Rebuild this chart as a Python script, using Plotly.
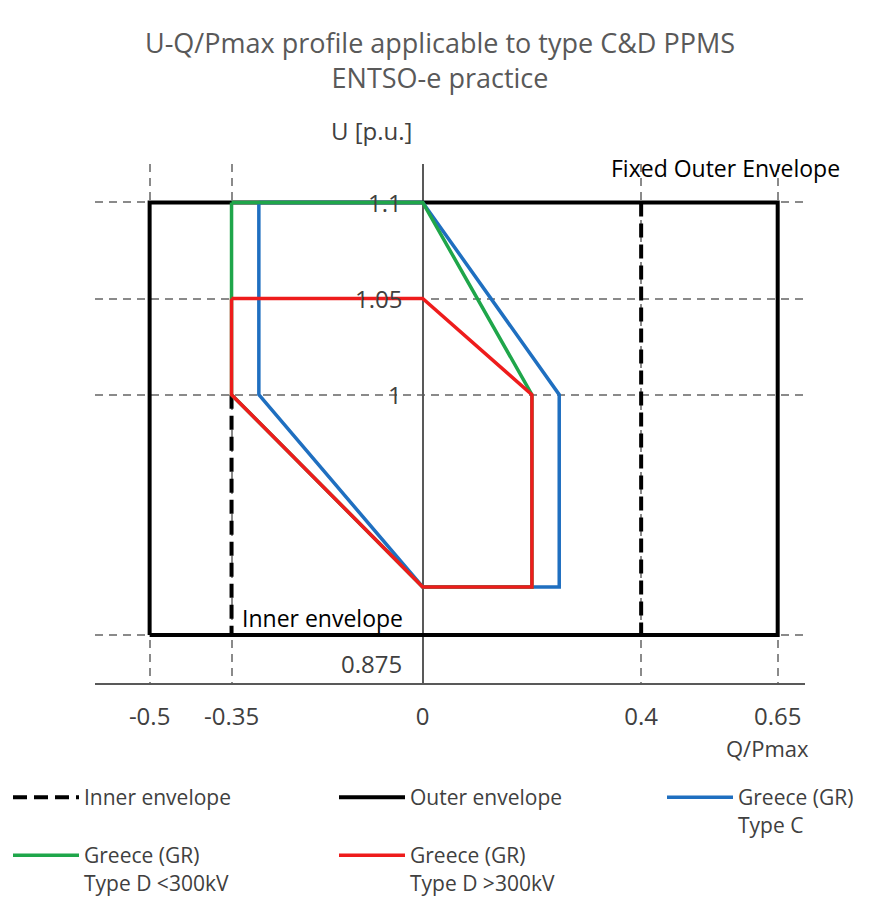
import plotly.graph_objects as go

# ---------------- data ----------------
outer_q = [-0.5, -0.5, 0.65, 0.65, -0.5]
outer_u = [0.875, 1.1, 1.1, 0.875, 0.875]

inner_q = [-0.35, -0.35, None, 0.4, 0.4]
inner_u = [1.0, 0.875, None, 1.1, 0.875]

typeC_q = [-0.3, 0, 0.25, 0.25, 0, -0.3, -0.3]
typeC_u = [1.1, 1.1, 1.0, 0.9, 0.9, 1.0, 1.1]

typeD_lo_q = [-0.35, 0, 0.2, 0.2, 0, -0.35, -0.35]
typeD_lo_u = [1.1, 1.1, 1.0, 0.9, 0.9, 1.0, 1.1]

typeD_hi_q = [-0.35, 0, 0.2, 0.2, 0, -0.35, -0.35]
typeD_hi_u = [1.05, 1.05, 1.0, 0.9, 0.9, 1.0, 1.05]

x_ticks = [-0.5, -0.35, 0, 0.4, 0.65]
x_tick_text = ["-0.5", "-0.35", "0", "0.4", "0.65"]
y_ticks = [0.875, 1.0, 1.05, 1.1]
y_tick_text = ["0.875", "1", "1.05", "1.1"]

FONT = "Open Sans"
GREY = "#404040"
OFF = 8  # page body margin compensation

fig = go.Figure()

fig.add_trace(go.Scatter(x=outer_q, y=outer_u, mode="lines", name="Outer envelope",
                         line=dict(color="black", width=4), legend="legend2"))
fig.add_trace(go.Scatter(x=inner_q, y=inner_u, mode="lines", name="Inner envelope",
                         line=dict(color="black", width=4, dash="14px,7px"), legend="legend"))
fig.add_trace(go.Scatter(x=typeC_q, y=typeC_u, mode="lines", name="Greece (GR)<br>Type C",
                         line=dict(color="#1f6fc0", width=3.5), legend="legend3"))
fig.add_trace(go.Scatter(x=typeD_lo_q, y=typeD_lo_u, mode="lines", name="Greece (GR)<br>Type D <300kV",
                         line=dict(color="#1fa64a", width=3.5), legend="legend4"))
fig.add_trace(go.Scatter(x=typeD_hi_q, y=typeD_hi_u, mode="lines", name="Greece (GR)<br>Type D >300kV",
                         line=dict(color="#ee1c1c", width=3.5), legend="legend5"))

annotations = []
for v, t in zip(y_ticks, y_tick_text):
    annotations.append(dict(x=0, y=v, xref="x", yref="y", text=t, showarrow=False,
                            xanchor="right", xshift=-19, yanchor="middle",
                            yshift=-29 if v == 0.875 else 0,
                            font=dict(family=FONT, size=24, color=GREY)))
annotations += [
    dict(x=0, y=1, xref="x", yref="paper", text="U [p.u.]", showarrow=False,
         xanchor="right", xshift=-9, yanchor="middle", yshift=34,
         font=dict(family=FONT, size=24, color=GREY)),
    dict(x=0.65, y=0, xref="x", yref="paper", text="Q/Pmax", showarrow=False,
         xanchor="center", xshift=-10, yanchor="middle", yshift=-65,
         font=dict(family=FONT, size=22, color=GREY)),
    dict(x=0.555, y=1.1, xref="x", yref="y", text="Fixed Outer Envelope", showarrow=False,
         xanchor="center", yanchor="middle", yshift=34,
         font=dict(family=FONT, size=23, color="black")),
    dict(x=-0.35, y=0.875, xref="x", yref="y", text="Inner envelope", showarrow=False,
         xanchor="left", xshift=8, yanchor="middle", yshift=17,
         font=dict(family=FONT, size=23, color="black")),
]

legend_common = dict(xref="container", yref="container", xanchor="left", yanchor="top",
                     bgcolor="rgba(0,0,0,0)", itemwidth=66, valign="top",
                     font=dict(family=FONT, size=21, color=GREY))

def leg(px, py):
    d = dict(legend_common)
    d["x"] = max(px - OFF, 0) / 869
    d["y"] = 1 - (py - OFF) / 897
    return d

fig.update_layout(
    width=869, height=897,
    margin=dict(l=95 - OFF, r=64 + OFF, t=164 - OFF, b=214 + OFF, autoexpand=False),
    paper_bgcolor="white", plot_bgcolor="white",
    title=dict(text="U-Q/Pmax profile applicable to type C&D PPMS<br>ENTSO-e practice",
               x=(440 - OFF) / 869, xanchor="center", yref="container", y=1 - 45 / 897,
               yanchor="top",
               font=dict(family=FONT, size=27, color="#595959")),
    showlegend=True,
    legend=leg(8, 777),
    legend2=leg(334, 777),
    legend3=leg(662, 777),
    legend4=leg(8, 835),
    legend5=leg(334, 835),
    xaxis=dict(range=[-0.6, 0.7], tickvals=x_ticks, ticktext=x_tick_text,
               showgrid=True, gridcolor="#8a8a8a", gridwidth=1.5, griddash="8px,6px",
               zeroline=True, zerolinecolor="#595959", zerolinewidth=1.5,
               showline=True, linecolor="#595959", linewidth=1.5,
               ticks="", ticklabelstandoff=11,
               tickfont=dict(family=FONT, size=24, color=GREY), fixedrange=True),
    yaxis=dict(range=[0.85, 1.12], tickvals=y_ticks, showticklabels=False,
               showgrid=True, gridcolor="#8a8a8a", gridwidth=1.5, griddash="8px,6px",
               zeroline=False, showline=False, ticks="", fixedrange=True),
    annotations=annotations,
)

fig.write_html("out.html")
